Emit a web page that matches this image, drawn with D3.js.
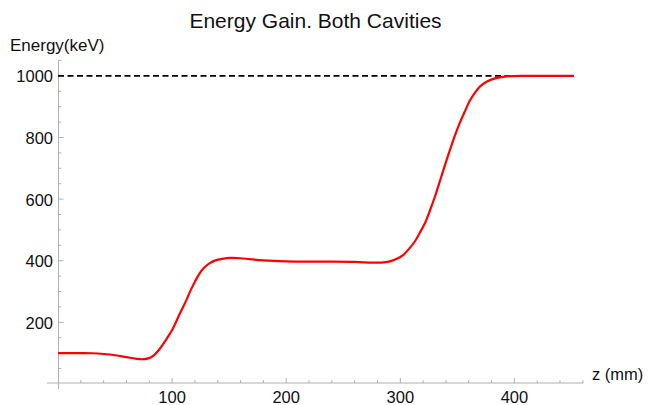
<!DOCTYPE html>
<html>
<head>
<meta charset="utf-8">
<script src="https://cdn.jsdelivr.net/npm/d3@7"></script>
<style>
  html, body { margin: 0; padding: 0; background: #fff; }
  svg { display: block; font-family: "Liberation Sans", Arial, sans-serif; }
</style>
</head>
<body>
<svg id="chart" width="648" height="405"></svg>
<script>
// ---- data ----
const zValues = [0,10,20,30,40,50,60,68,74,79,84,89,95,100,107,112,116,120,124,128,133,138,144,151,160,168,180,200,230,260,275,283,290,297,303,308,313,317,322,326,331,335,340,344,348,352,357,361,366,370,376,383,390,398,410,430,452];
const energyValues = [100,100,100,99.5,97,93,87,82,80,83,93,113,145,175,230,268,302,332,358,377,392,401,406,409,408,405,401,398,397,396,394,394,397,406,420,440,464,490,525,563,615,662,720,765,808,846,888,920,948,966,982,992,997,999.5,1000,1000,1000];
const referenceLevel = [1000];
const xTickValues = [100, 200, 300, 400];
const yTickValues = [200, 400, 600, 800, 1000];
const titleText = "Energy Gain. Both Cavities";
const xLabel = "z (mm)";
const yLabel = "Energy(keV)";

// ---- layout ----
const svg = d3.select("#chart");
const x = d3.scaleLinear().domain([0, 400]).range([58, 514.4]);
const y = d3.scaleLinear().domain([0, 1000]).range([383.9, 75.9]);
const axisColor = "#b0b0b0";
const xAxisY = 383;
const yAxisX = 58.5;

// axes lines
svg.append("line").attr("x1", x(-9.6)).attr("x2", x(460.5)).attr("y1", xAxisY).attr("y2", xAxisY)
  .attr("stroke", axisColor).attr("stroke-width", 1);
svg.append("line").attr("x1", yAxisX).attr("x2", yAxisX).attr("y1", y(1051)).attr("y2", 389)
  .attr("stroke", axisColor).attr("stroke-width", 1);

// x ticks
const xMinor = d3.range(20, 461, 20).filter(v => !xTickValues.includes(v));
svg.append("g").selectAll("line").data(xMinor).join("line")
  .attr("x1", d => x(d)).attr("x2", d => x(d)).attr("y1", xAxisY).attr("y2", xAxisY - 2.8)
  .attr("stroke", axisColor);
svg.append("g").selectAll("line").data(xTickValues).join("line")
  .attr("x1", d => x(d)).attr("x2", d => x(d)).attr("y1", xAxisY).attr("y2", xAxisY - 5)
  .attr("stroke", axisColor);
svg.append("g").selectAll("text").data(xTickValues).join("text")
  .attr("x", d => x(d)).attr("y", 403).attr("text-anchor", "middle")
  .attr("font-size", 16.5).attr("fill", "#111").text(d => d);

// y ticks
const yMinor = d3.range(50, 1051, 50).filter(v => !yTickValues.includes(v));
svg.append("g").selectAll("line").data(yMinor).join("line")
  .attr("x1", yAxisX).attr("x2", yAxisX + 2.8).attr("y1", d => y(d)).attr("y2", d => y(d))
  .attr("stroke", axisColor);
svg.append("g").selectAll("line").data(yTickValues).join("line")
  .attr("x1", yAxisX).attr("x2", yAxisX + 5).attr("y1", d => y(d)).attr("y2", d => y(d))
  .attr("stroke", axisColor);
svg.append("g").selectAll("text").data(yTickValues).join("text")
  .attr("x", 53).attr("y", d => y(d) + 6.5).attr("text-anchor", "end")
  .attr("font-size", 16.5).attr("fill", "#111").text(d => d);

// reference dashed line
svg.append("g").selectAll("line").data(referenceLevel).join("line")
  .attr("x1", x(0)).attr("x2", x(452)).attr("y1", d => y(d)).attr("y2", d => y(d))
  .attr("stroke", "#000").attr("stroke-width", 1.6).attr("stroke-dasharray", "6,3.5");

// curve
const pts = zValues.map((z, i) => [z, energyValues[i]]);
const line = d3.line().x(d => x(d[0])).y(d => y(d[1])).curve(d3.curveCatmullRom.alpha(0.5));
svg.append("path").datum(pts).attr("d", line)
  .attr("fill", "none").attr("stroke", "#ff0000").attr("stroke-width", 2.2);

// titles
svg.append("text").attr("x", 315.5).attr("y", 27.5).attr("text-anchor", "middle")
  .attr("font-size", 21).attr("fill", "#111").text(titleText);
svg.append("text").attr("x", 10).attr("y", 50.5).attr("font-size", 17).attr("fill", "#111").text(yLabel);
svg.append("text").attr("x", 592).attr("y", 380).attr("font-size", 16.5).attr("fill", "#111").text(xLabel);
</script>
</body>
</html>
